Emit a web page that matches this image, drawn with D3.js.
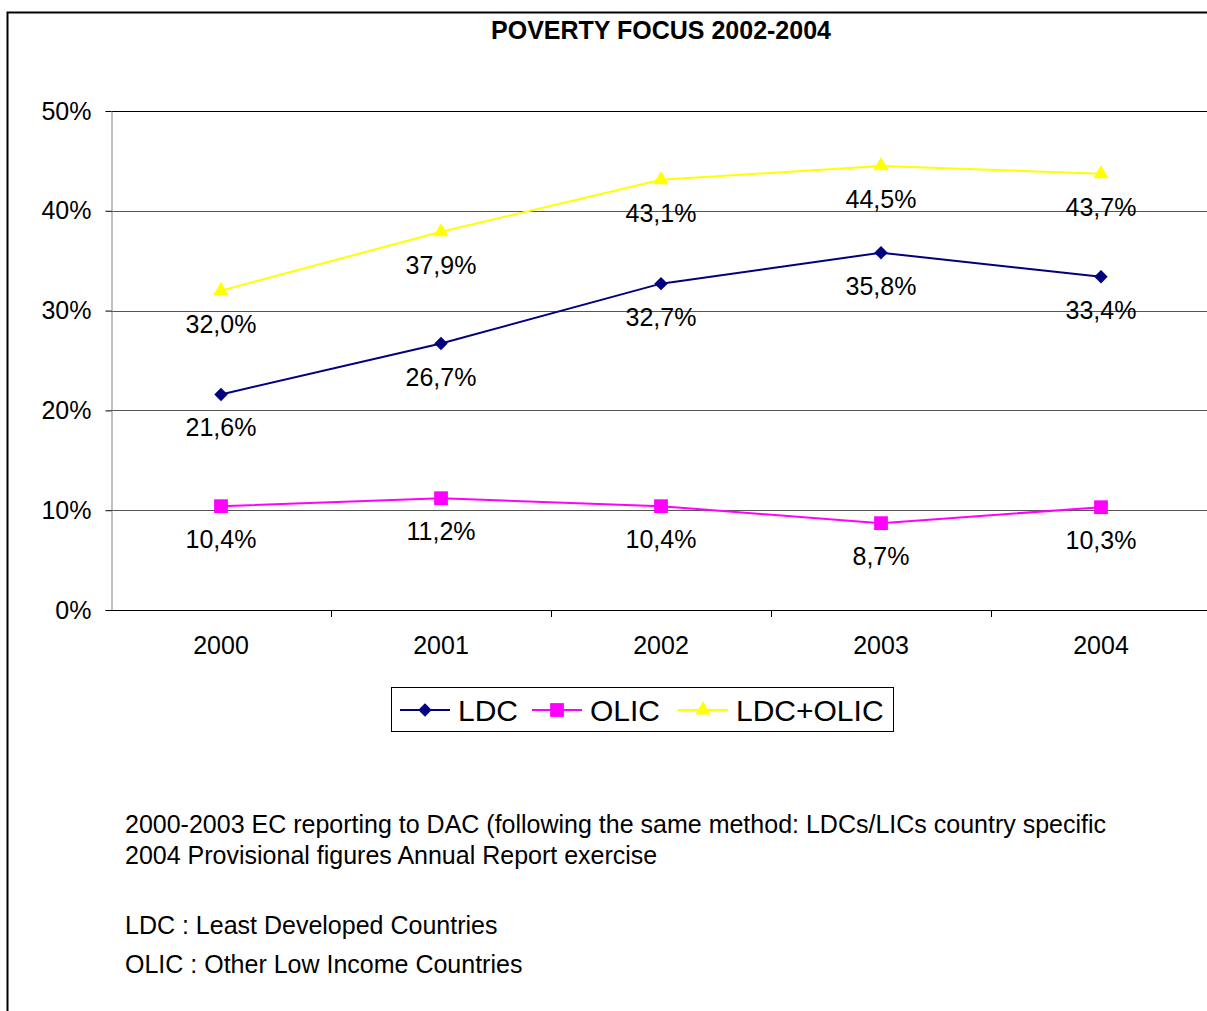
<!DOCTYPE html>
<html>
<head>
<meta charset="utf-8">
<script src="https://cdn.jsdelivr.net/npm/d3@7"></script>
<style>
  body { margin: 0; background: #fff; }
  svg { display: block; font-family: "Liberation Sans", Arial, sans-serif; }
</style>
</head>
<body>
<div id="chart"></div>
<script>
var years = ["2000", "2001", "2002", "2003", "2004"];
var ldc = [21.6, 26.7, 32.7, 35.8, 33.4];
var olic = [10.4, 11.2, 10.4, 8.7, 10.3];
var ldcOlic = [32.0, 37.9, 43.1, 44.5, 43.7];
var yTicks = [0, 10, 20, 30, 40, 50];
var seriesNames = ["LDC", "OLIC", "LDC+OLIC"];
var notes = [
  "2000-2003 EC reporting to DAC (following the same method: LDCs/LICs country specific",
  "2004 Provisional figures Annual Report exercise",
  "LDC : Least Developed Countries",
  "OLIC : Other Low Income Countries"
];

var W = 1207, H = 1011;
var margin = {top: 111, left: 111};
var plotW = 1100, plotH = 499;

var svg = d3.select("#chart").append("svg")
    .attr("width", W).attr("height", H);

// outer frame (runs off the right and bottom edges)
svg.append("rect")
    .attr("x", 7.5).attr("y", 12.5)
    .attr("width", W + 20).attr("height", H + 20)
    .attr("fill", "none").attr("stroke", "#000").attr("stroke-width", 2);

svg.append("text")
    .attr("x", 661).attr("y", 39)
    .attr("text-anchor", "middle")
    .style("font-size", "25px").style("font-weight", "bold")
    .text("POVERTY FOCUS 2002-2004");

var g = svg.append("g")
    .attr("transform", "translate(" + margin.left + "," + margin.top + ")");

var x = d3.scaleBand().domain(years).range([0, plotW]);
var y = d3.scaleLinear().domain([0, 50]).range([plotH, 0]);

// gridlines
g.selectAll(".grid")
  .data(yTicks.filter(function(d) { return d > 0; }))
  .enter().append("line")
    .attr("x1", 0).attr("x2", plotW)
    .attr("y1", function(d) { return Math.round(y(d)) + 0.5; })
    .attr("y2", function(d) { return Math.round(y(d)) + 0.5; })
    .attr("stroke", function(d) { return d == 50 ? "#000" : "#555"; })
    .attr("stroke-width", 1);

// Y axis
var yAxis = g.append("g")
    .attr("transform", "translate(0.5,0)")
    .call(d3.axisLeft(y).tickValues(yTicks).tickSize(6).tickPadding(14)
      .tickFormat(function(d) { return d + "%"; }));
yAxis.select(".domain").attr("stroke", "#808080");
yAxis.selectAll(".tick line").attr("stroke", "#000");
yAxis.selectAll("text").style("font-size", "25px").attr("fill", "#000")
    .attr("font-family", "Liberation Sans, Arial, sans-serif");

// X axis
var xAxis = g.append("g")
    .attr("transform", "translate(0," + (Math.round(plotH) + 0.5) + ")")
    .call(d3.axisBottom(x).tickSize(0).tickPadding(26));
xAxis.select(".domain").attr("stroke", "#000").attr("d", "M0,0H" + plotW);
xAxis.selectAll("text").style("font-size", "25px").attr("fill", "#000")
    .attr("font-family", "Liberation Sans, Arial, sans-serif");
g.selectAll(".xtick")
  .data(years.slice(1))
  .enter().append("line")
    .attr("x1", function(d) { return x(d) + 0.5; })
    .attr("x2", function(d) { return x(d) + 0.5; })
    .attr("y1", plotH).attr("y2", plotH + 7)
    .attr("stroke", "#000");

// diamond = square turned 45 degrees
var series = [
  {name: seriesNames[0], values: ldc, color: "#000080", symbol: d3.symbolSquare, size: 90, rot: 45},
  {name: seriesNames[1], values: olic, color: "#FF00FF", symbol: d3.symbolSquare, size: 190, rot: 0},
  {name: seriesNames[2], values: ldcOlic, color: "#FFFF00", symbol: d3.symbolTriangle, size: 100, rot: 0}
];

var cx = function(i) { return x(years[i]) + x.bandwidth() / 2; };

var line = d3.line()
    .x(function(d, i) { return cx(i); })
    .y(function(d) { return y(d); });

series.forEach(function(s) {
  g.append("path")
    .datum(s.values)
    .attr("d", line)
    .attr("fill", "none")
    .attr("stroke", s.color)
    .attr("stroke-width", 2);

  g.selectAll(null)
    .data(s.values)
    .enter().append("path")
      .attr("transform", function(d, i) {
        return "translate(" + cx(i) + "," + y(d) + ")rotate(" + s.rot + ")";
      })
      .attr("d", d3.symbol().type(s.symbol).size(s.size))
      .attr("fill", s.color);

  g.selectAll(null)
    .data(s.values)
    .enter().append("text")
      .attr("x", function(d, i) { return cx(i); })
      .attr("y", function(d) { return y(d) + 42; })
      .attr("text-anchor", "middle")
      .style("font-size", "25px")
      .text(function(d) { return d.toFixed(1).replace(".", ",") + "%"; });
});

// legend
var legend = svg.append("g").attr("transform", "translate(391,687)");
legend.append("rect")
    .attr("x", 0.5).attr("y", 0.5).attr("width", 502).attr("height", 44)
    .attr("fill", "#fff").attr("stroke", "#000");
var legX = [9, 141, 287];
series.forEach(function(s, i) {
  var lg = legend.append("g").attr("transform", "translate(" + legX[i] + ",23)");
  lg.append("line").attr("x1", 0).attr("x2", 50).attr("y1", 0).attr("y2", 0)
    .attr("stroke", s.color).attr("stroke-width", 2);
  lg.append("path")
    .attr("transform", "translate(25,0)rotate(" + s.rot + ")")
    .attr("d", d3.symbol().type(s.symbol).size(s.size))
    .attr("fill", s.color);
  lg.append("text").attr("x", 58).attr("y", 11)
    .style("font-size", "30px").text(s.name);
});

// notes
var noteY = [833, 864, 934, 973];
svg.selectAll(".note")
  .data(notes)
  .enter().append("text")
    .attr("x", 125)
    .attr("y", function(d, i) { return noteY[i]; })
    .style("font-size", "25px")
    .text(function(d) { return d; });
</script>
</body>
</html>
